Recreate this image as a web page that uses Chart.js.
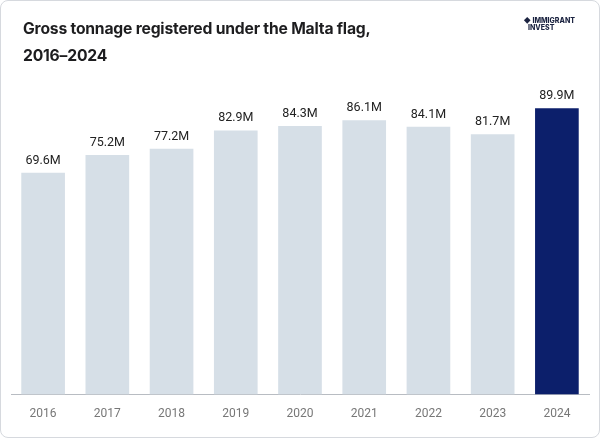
<!DOCTYPE html>
<html>
<head>
<script src="https://cdn.jsdelivr.net/npm/chart.js@4"></script>
<style>
  body { margin: 0; background: #fff; }
  #wrap { position: relative; width: 598px; height: 436px; border: 1px solid #d6d9de; border-radius: 8px; overflow: hidden; }
  #title { position: absolute; left: 22px; top: 14px; font: bold 15.7px "Inter", "Noto Sans", sans-serif; color: #1d1d1f; line-height: 27px; letter-spacing: -0.2px; }
  #logo { position: absolute; right: 24px; top: 16px; font: 800 7px "Inter", sans-serif; color: #1b2340; line-height: 7px; }
  canvas { position: absolute; left: 0; top: 0; }
</style>
</head>
<body>
<div id="wrap">
  <canvas id="chart" width="598" height="436"></canvas>
  <div id="title">Gross tonnage registered under the Malta flag,<br>2016–2024</div>
  <div id="logo">◆ IMMIGRANT<br>&nbsp;&nbsp;&nbsp;INVEST</div>
</div>
<script>
const years = ['2016', '2017', '2018', '2019', '2020', '2021', '2022', '2023', '2024'];
const tonnage = [69.6, 75.2, 77.2, 82.9, 84.3, 86.1, 84.1, 81.7, 89.9];
const colors = years.map((y, i) => i === years.length - 1 ? '#0c1f6b' : '#d6dfe7');

const labelPlugin = {
  id: 'labels',
  afterDatasetsDraw(chart) {
    const ctx = chart.ctx;
    ctx.save();
    ctx.font = '12.5px Roboto, sans-serif';
    ctx.fillStyle = '#222';
    ctx.textAlign = 'center';
    ctx.textBaseline = 'bottom';
    chart.getDatasetMeta(0).data.forEach((bar, i) => {
      ctx.fillText(tonnage[i].toFixed(1) + 'M', bar.x, bar.y - 6);
    });
    ctx.restore();
  }
};

new Chart(document.getElementById('chart').getContext('2d'), {
  type: 'bar',
  data: {
    labels: years,
    datasets: [{ data: tonnage, backgroundColor: colors, categoryPercentage: 0.68, barPercentage: 1 }]
  },
  options: {
    responsive: false,
    animation: false,
    layout: { padding: { top: 75, left: 10, right: 10, bottom: 12 } },
    plugins: { legend: { display: false }, tooltip: { enabled: false } },
    scales: {
      y: { display: false, min: 0, max: 100 },
      x: {
        grid: { display: false },
        border: { color: '#b8bcc2' },
        ticks: { color: '#777', font: { size: 12, family: 'Roboto' }, padding: 4 }
      }
    }
  },
  plugins: [labelPlugin]
});
</script>
</body>
</html>
